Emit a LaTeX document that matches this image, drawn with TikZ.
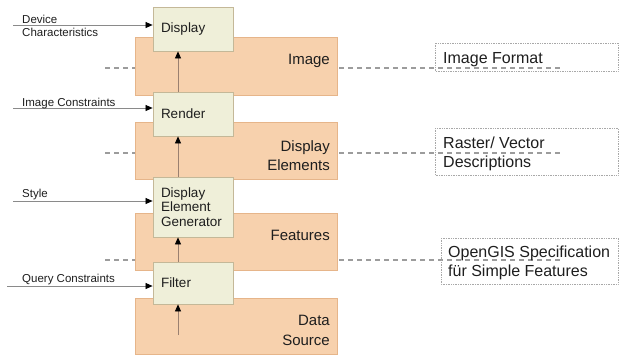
\documentclass[tikz,border=0pt]{standalone}
\usepackage{fontspec}
\setmainfont{Liberation Sans}
\usetikzlibrary{arrows.meta}
\definecolor{ofill}{HTML}{F7D1AD}
\definecolor{odraw}{HTML}{E6B58A}
\definecolor{lfill}{HTML}{EFEFD9}
\definecolor{ldraw}{HTML}{C4B898}
\definecolor{abrown}{HTML}{9A8070}
\definecolor{ingray}{HTML}{8A8A8A}
\definecolor{dgray}{HTML}{9C9C9C}
\definecolor{bgray}{HTML}{A8A8A8}
\definecolor{txt}{HTML}{1E1E1E}
\begin{document}
\begin{tikzpicture}[x=1pt,y=-1pt,
  layerbox/.style={draw=odraw,fill=ofill,line width=0.8pt,minimum width=202pt,inner sep=0pt},
  procbox/.style={draw=ldraw,fill=lfill,line width=0.8pt,minimum width=80pt,text width=64pt,inner xsep=8pt,inner ysep=0pt,align=left,text=txt,font=\fontsize{13.5}{14.5}\selectfont},
  layertext/.style={inner sep=0pt,align=right,anchor=north east,text=txt,font=\fontsize{15}{19.5}\selectfont},
  infotext/.style={inner sep=0pt,align=left,anchor=north west,text=txt,font=\fontsize{16}{19}\selectfont},
  inlabel/.style={inner sep=0pt,align=left,anchor=north west,text=txt,font=\fontsize{11.5}{13}\selectfont},
  infobox/.style={draw=bgray,densely dotted,line width=0.7pt,inner sep=0pt},
  flow/.style={draw=abrown,line width=0.8pt,-{Triangle[length=7pt,width=6pt,color=black]}},
  inflow/.style={draw=ingray,line width=0.7pt,-{Triangle[length=7pt,width=6pt,color=black]}},
  level/.style={draw=dgray,line width=1.1pt,dash pattern=on 5pt off 4pt}
]
\useasboundingbox (0,0) rectangle (619,354);

% dashed level lines (behind)
\coordinate (l1a) at (105,68);  \coordinate (l1b) at (560,68);
\coordinate (l2a) at (105,153); \coordinate (l2b) at (560,153);
\coordinate (l3a) at (105,260); \coordinate (l3b) at (560,260);
\draw[level] (l1a) -- (l1b);
\draw[level] (l2a) -- (l2b);
\draw[level] (l3a) -- (l3b);

% layer boxes
\node[layerbox,minimum height=58pt] (img) at (236,66) {};
\node[layerbox,minimum height=57pt] (del) at (236,150.5) {};
\node[layerbox,minimum height=57pt] (feat) at (236,241.5) {};
\node[layerbox,minimum height=56pt] (ds) at (236,326) {};

\node[layertext] (imgt) at (330,54.3) {Image};
\node[layertext] (delt) at (330,140.3) {Display\\Elements};
\node[layertext] (featt) at (330,230.3) {Features};
\node[layertext] (dst) at (330,315.3) {Data\\Source};

% process boxes
\node[procbox,minimum height=44pt] (disp) at (193,29) {Display};
\node[procbox,minimum height=44pt] (rend) at (193,114) {Render};
\node[procbox,minimum height=60pt] (gen) at (193,207) {Display\\Element\\Generator};
\node[procbox,minimum height=42pt] (filt) at (193,283) {Filter};

% vertical flow
\coordinate (ax) at (178,0);
\coordinate (src) at (178,335);
\draw[flow] (src) -- (filt.south -| ax);
\draw[flow] (filt.north -| ax) -- (gen.south -| ax);
\draw[flow] (gen.north -| ax) -- (rend.south -| ax);
\draw[flow] (rend.north -| ax) -- (disp.south -| ax);

% inputs
\coordinate (i1) at (13,25);
\coordinate (i2) at (13,108);
\coordinate (i3) at (13,201);
\coordinate (i4) at (7,286);
\draw[inflow] (i1) -- (i1 -| disp.west);
\draw[inflow] (i2) -- (i2 -| rend.west);
\draw[inflow] (i3) -- (i3 -| gen.west);
\draw[inflow] (i4) -- (i4 -| filt.west);
\node[inlabel] (dc) at (22,15) {Device\\Characteristics};
\node[inlabel] (ic) at (22,98) {Image Constraints};
\node[inlabel] (st) at (22,189) {Style};
\node[inlabel] (qc) at (22,274) {Query Constraints};

% info boxes
\draw[infobox] (435,43) rectangle (618,71);
\draw[infobox] (435,128) rectangle (618,175);
\draw[infobox] (441,238) rectangle (618,284);
\node[infotext] (if) at (443,52.5) {Image Format};
\node[infotext] (rv) at (443,136.5) {Raster/ Vector\\Descriptions};
\node[infotext] (og) at (448,245.5) {OpenGIS Specification\\für Simple Features};
\end{tikzpicture}
\end{document}
